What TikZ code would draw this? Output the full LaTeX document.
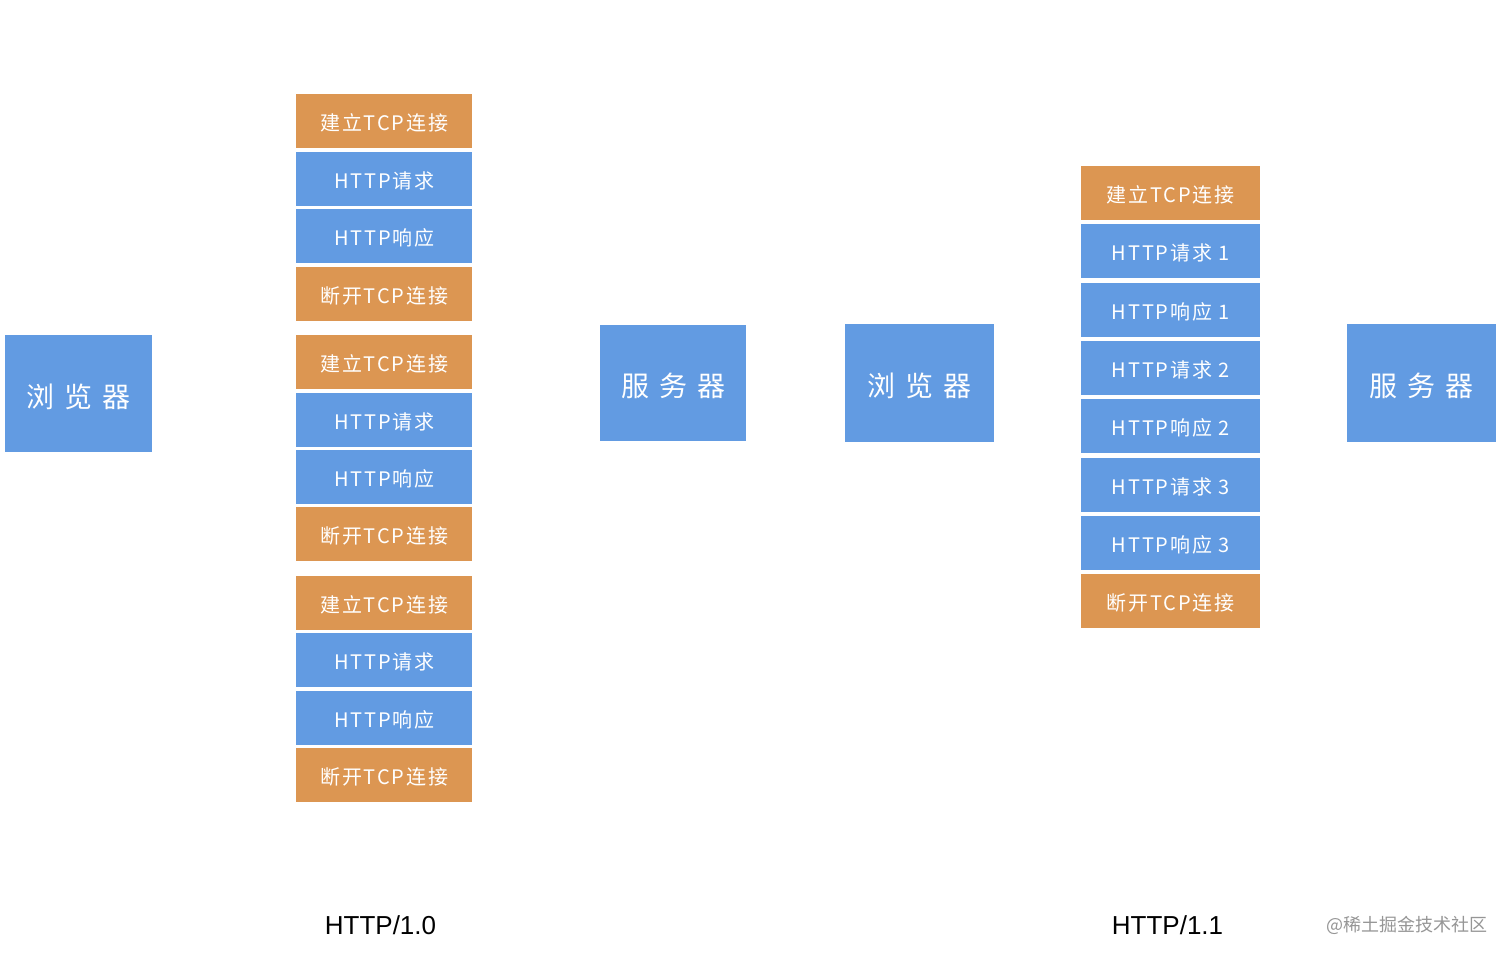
\documentclass[tikz,border=0pt]{standalone}
\usepackage{fontspec}
\setmainfont{Liberation Sans}
\newfontfamily\cjk{Noto Sans CJK SC}
\newfontfamily\cjks[LetterSpace=9]{Noto Sans CJK SC}
\definecolor{bluec}{RGB}{98,155,226}
\definecolor{orangec}{RGB}{220,150,82}
\definecolor{wmark}{RGB}{150,150,150}
\tikzset{
  sbox/.style={inner sep=0pt, minimum width=176pt, minimum height=54pt, anchor=north west,
    text=white, font=\cjks\fontsize{20}{20}\selectfont, text height=20pt, text depth=1pt},
  rbox/.style={sbox, minimum width=179pt},
  ob/.style={fill=orangec},
  bb/.style={fill=bluec},
  bigbox/.style={inner sep=0pt, anchor=north west, fill=bluec, text=white,
    font=\cjk\fontsize{28}{28}\selectfont, text height=30pt, text depth=3pt},
  caption/.style={inner sep=0pt, anchor=base, font=\fontsize{26}{26}\selectfont, text=black}
}
\newcommand{\bigtext}[3]{#1\hspace{10pt}#2\hspace{10pt}#3}
\begin{document}
\begin{tikzpicture}[x=1pt,y=-1pt]
\useasboundingbox (0,0) rectangle (1512,960);
\fill[white] (0,0) rectangle (1512,960);

% HTTP/1.0 side
\node[bigbox, minimum width=147pt, minimum height=117pt] (b1) at (5,335) {\bigtext{浏}{览}{器}};
\node[bigbox, minimum width=146pt, minimum height=116pt] (s1) at (600,325) {\bigtext{服}{务}{器}};

\node[sbox, ob] (a1) at (296,94)  {建立TCP连接};
\node[sbox, bb] (a2) at (296,152) {HTTP请求};
\node[sbox, bb] (a3) at (296,209) {HTTP响应};
\node[sbox, ob] (a4) at (296,267) {断开TCP连接};

\node[sbox, ob] (a5) at (296,335) {建立TCP连接};
\node[sbox, bb] (a6) at (296,393) {HTTP请求};
\node[sbox, bb] (a7) at (296,450) {HTTP响应};
\node[sbox, ob] (a8) at (296,507) {断开TCP连接};

\node[sbox, ob] (a9)  at (296,576) {建立TCP连接};
\node[sbox, bb] (a10) at (296,633) {HTTP请求};
\node[sbox, bb] (a11) at (296,691) {HTTP响应};
\node[sbox, ob] (a12) at (296,748) {断开TCP连接};

% HTTP/1.1 side
\node[bigbox, minimum width=149pt, minimum height=118pt] (b2) at (845,324) {\bigtext{浏}{览}{器}};
\node[bigbox, minimum width=149pt, minimum height=118pt] (s2) at (1347,324) {\bigtext{服}{务}{器}};

\node[rbox, ob] (c1) at (1081,166) {建立TCP连接};
\node[rbox, bb] (c2) at (1081,224) {HTTP请求 1};
\node[rbox, bb] (c3) at (1081,283) {HTTP响应 1};
\node[rbox, bb] (c4) at (1081,341) {HTTP请求 2};
\node[rbox, bb] (c5) at (1081,399) {HTTP响应 2};
\node[rbox, bb] (c6) at (1081,458) {HTTP请求 3};
\node[rbox, bb] (c7) at (1081,516) {HTTP响应 3};
\node[rbox, ob] (c8) at (1081,574) {断开TCP连接};

% captions
\node[caption] (t1) at (380.5,934) {HTTP/1.0};
\node[caption] (t2) at (1167.5,934) {HTTP/1.1};
\node[inner sep=0pt, anchor=base west, text=wmark, font=\cjk\fontsize{18}{18}\selectfont] (wm) at (1326,931) {@稀土掘金技术社区};
\end{tikzpicture}
\end{document}
